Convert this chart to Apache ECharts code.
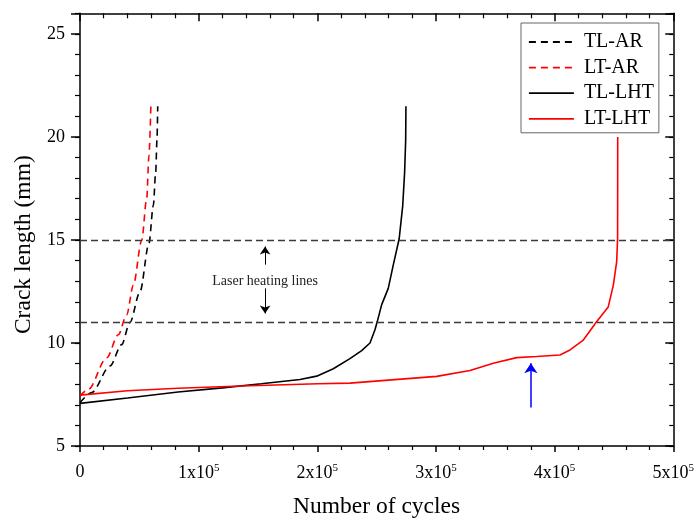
<!DOCTYPE html>
<html><head><meta charset="utf-8">
<script src="https://cdn.jsdelivr.net/npm/echarts@6/dist/echarts.min.js"></script>
<style>html,body{margin:0;padding:0;background:#fff}#c{width:697px;height:524px}</style>
</head><body><div id="c"></div>
<script>
// ---- data ----
const tlArX = [0, 9800, 25300, 35100, 42100, 50600, 58100, 61800, 63800, 64900, 65500];
const tlArY = [7.1, 7.59, 8.88, 9.92, 11.0, 12.49, 14.82, 16.67, 18.28, 19.88, 21.49];

const ltArX = [0, 7000, 22500, 32300, 39300, 45000, 52000, 56200, 58100, 59800];
const ltArY = [7.42, 7.75, 9.28, 10.4, 11.36, 12.81, 14.98, 16.99, 19.08, 21.65];

const tlLhtX = [0, 40000, 82600, 120000, 152800, 185400, 199500, 213500, 227500, 237400, 244400, 248600, 250600, 254200, 259800, 264000, 269000, 272000, 273600, 274500, 274700];
const tlLhtY = [7.07, 7.33, 7.62, 7.82, 8.02, 8.23, 8.39, 8.75, 9.24, 9.63, 10.0, 10.64, 11.05, 11.85, 12.65, 13.78, 15.06, 16.67, 18.28, 19.88, 21.49];

const ltLhtX = [0, 40000, 82600, 135900, 200600, 227500, 300600, 328700, 348300, 368000, 384900, 404500, 413000, 424200, 435400, 445200, 449500, 452300, 453100, 453200];
const ltLhtY = [7.47, 7.68, 7.80, 7.91, 8.02, 8.05, 8.38, 8.66, 9.02, 9.29, 9.34, 9.42, 9.66, 10.14, 11.03, 11.75, 12.81, 13.94, 15.06, 20.0];

const seriesNames = ['TL-AR', 'LT-AR', 'TL-LHT', 'LT-LHT'];
const refLines = [15, 11];
const noteText = 'Laser heating lines';
const notePos = [156000, 12.97];
const noteArrows = [[156000, 13.8, 156000, 14.68], [156000, 12.65, 156000, 11.43]];
const blueArrow = [380000, 6.87, 380000, 9.02];

const xMin = 0, xMax = 500000, xStep = 100000;
const yMin = 5, yMax = 26, yStep = 5;

// ---- helpers ----
const zip = (xs, ys) => xs.map((x, i) => [x, ys[i]]);
const FONT = "'Liberation Serif', 'Times New Roman', serif";

const chart = echarts.init(document.getElementById('c'), null, {renderer: 'canvas'});

function lineSeries(name, xs, ys, color, type) {
  return {
    name, type: 'line', data: zip(xs, ys),
    xAxisIndex: 0, yAxisIndex: 0,
    showSymbol: false, symbol: 'none',
    smooth: type === 'dashed' ? 0.3 : false,
    smoothMonotone: 'x',
    itemStyle: {color},
    lineStyle: {color, width: 1.6, type: type === 'dashed' ? [7, 5] : 'solid'},
    emphasis: {disabled: true},
    z: 3
  };
}

const axisLineStyle = {show: true, lineStyle: {color: '#000', width: 1.5}};

chart.setOption({
  animation: false,
  backgroundColor: '#fff',
  grid: {left: 80, right: 23.7, top: 13.3, bottom: 75.3, containLabel: false},
  legend: {
    data: seriesNames,
    orient: 'vertical',
    left: 521, top: 23,
    padding: [9, 5, 4, 7],
    itemWidth: 45, itemHeight: 14, itemGap: 5.6,
    borderColor: '#666', borderWidth: 1,
    backgroundColor: '#fff',
    itemStyle: {opacity: 0},
    lineStyle: {width: 1.8},
    textStyle: {fontFamily: FONT, fontSize: 20, color: '#000', lineHeight: 20, padding: [0, 0, 0, 5]},
    selectedMode: false
  },
  xAxis: [{
    type: 'value', min: xMin, max: xMax, interval: xStep, position: 'bottom',
    name: 'Number of cycles', nameLocation: 'middle', nameGap: 49,
    nameTextStyle: {fontFamily: FONT, fontSize: 23.5, color: '#000'},
    axisLine: axisLineStyle,
    axisTick: {show: true, inside: false, length: 6, lineStyle: {color: '#000', width: 1.5}},
    minorTick: {show: true, splitNumber: 5, length: 4, lineStyle: {color: '#000', width: 1.2}},
    splitLine: {show: false},
    axisLabel: {
      margin: 17, color: '#000', fontFamily: FONT, fontSize: 18,
      formatter: v => v === 0 ? '{b|0}' : '{b|' + Math.round(v / 100000) + 'x10}{s|5}',
      rich: {
        b: {fontFamily: FONT, fontSize: 18, color: '#000'},
        s: {fontFamily: FONT, fontSize: 11, color: '#000', padding: [0, 0, 10, 0]}
      }
    }
  }, {
    type: 'value', min: xMin, max: xMax, interval: xStep, position: 'top',
    axisLine: axisLineStyle,
    axisTick: {show: true, inside: true, length: 8, lineStyle: {color: '#000', width: 1.5}},
    minorTick: {show: true, splitNumber: 5, length: 5, lineStyle: {color: '#000', width: 1.2}},
    splitLine: {show: false}, axisLabel: {show: false}
  }],
  yAxis: [{
    type: 'value', min: yMin, max: yMax, interval: 1, position: 'left',
    name: 'Crack length (mm)', nameLocation: 'middle', nameGap: 42,
    nameTextStyle: {fontFamily: FONT, fontSize: 23.5, color: '#000', padding: [0, 30, 0, 0]},
    axisLine: axisLineStyle,
    axisTick: {show: true, inside: false, length: 5, lineStyle: {color: '#000', width: 1.2}},
    splitLine: {show: false},
    axisLabel: {
      margin: 15, color: '#000', fontFamily: FONT, fontSize: 18,
      formatter: v => (v % yStep === 0 && v < yMax) ? String(v) : ''
    }
  }, {
    type: 'value', min: yMin, max: yMax, interval: yStep, position: 'left', offset: 0,
    axisLine: {show: false},
    axisTick: {show: true, inside: false, length: 9, lineStyle: {color: '#000', width: 1.5}},
    splitLine: {show: false}, axisLabel: {show: false}
  }, {
    type: 'value', min: yMin, max: yMax, interval: 1, position: 'right', offset: 0,
    axisLine: axisLineStyle,
    axisTick: {show: true, inside: true, length: 4, lineStyle: {color: '#000', width: 1.2}},
    splitLine: {show: false}, axisLabel: {show: false}
  }, {
    type: 'value', min: yMin, max: yMax, interval: yStep, position: 'right', offset: 0,
    axisLine: {show: false},
    axisTick: {show: true, inside: true, length: 8, lineStyle: {color: '#000', width: 1.5}},
    splitLine: {show: false}, axisLabel: {show: false}
  }],
  series: [
    {
      name: 'ref', type: 'line', data: [], xAxisIndex: 0, yAxisIndex: 0,
      markLine: {
        silent: true, symbol: ['none', 'none'], animation: false,
        label: {show: false},
        lineStyle: {color: '#3a3a3a', width: 1.4, type: [7, 4]},
        emphasis: {disabled: true},
        data: refLines.map(v => ({yAxis: v}))
      },
      markPoint: {
        silent: true, symbol: 'circle', symbolSize: 0,
        label: {show: true, position: 'inside', formatter: noteText, fontFamily: FONT, fontSize: 14, color: '#222'},
        data: [{coord: notePos}]
      }
    },
    {
      name: 'arrows', type: 'line', data: [], xAxisIndex: 0, yAxisIndex: 0,
      markLine: {
        silent: true, symbol: ['none', 'arrow'], symbolSize: 8, animation: false,
        label: {show: false},
        emphasis: {disabled: true},
        data: noteArrows.map(a => [
          {coord: [a[0], a[1]], lineStyle: {color: '#000', width: 1, type: 'solid'}},
          {coord: [a[2], a[3]]}
        ]).concat([[
          {coord: [blueArrow[0], blueArrow[1]], symbolSize: 10, lineStyle: {color: '#0000ff', width: 1.5, type: 'solid'}},
          {coord: [blueArrow[2], blueArrow[3]], symbolSize: 10}
        ]])
      }
    },
    lineSeries(seriesNames[0], tlArX, tlArY, '#000000', 'dashed'),
    lineSeries(seriesNames[1], ltArX, ltArY, '#ff0000', 'dashed'),
    lineSeries(seriesNames[2], tlLhtX, tlLhtY, '#000000', 'solid'),
    lineSeries(seriesNames[3], ltLhtX, ltLhtY, '#ff0000', 'solid')
  ]
});
</script>
</body></html>
